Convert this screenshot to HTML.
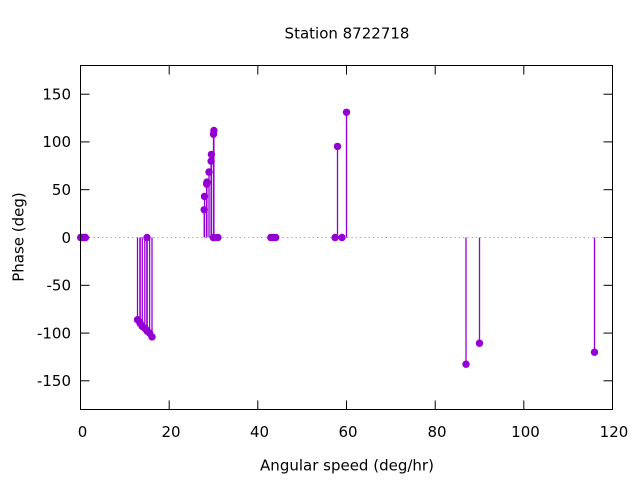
<!DOCTYPE html>
<html>
<head>
<meta charset="utf-8">
<style>
html,body{margin:0;padding:0;background:#fff;}
svg{display:block;}
text{font-family:"DejaVu Sans","Liberation Sans",sans-serif;font-size:15px;fill:#000;}
</style>
</head>
<body>
<svg width="640" height="480" viewBox="0 0 640 480" xmlns="http://www.w3.org/2000/svg">
<rect x="0" y="0" width="640" height="480" fill="#fff"/>
<!-- zero line -->
<line x1="80.5" y1="237.5" x2="612.5" y2="237.5" stroke="#a0a0a0" stroke-width="1" stroke-dasharray="1.2,3.1"/>
<!-- ticks -->
<g stroke="#000" stroke-width="1">
<line x1="80.5" y1="94.2" x2="89.5" y2="94.2"/><line x1="612.5" y1="94.2" x2="603.5" y2="94.2"/>
<line x1="80.5" y1="141.9" x2="89.5" y2="141.9"/><line x1="612.5" y1="141.9" x2="603.5" y2="141.9"/>
<line x1="80.5" y1="189.7" x2="89.5" y2="189.7"/><line x1="612.5" y1="189.7" x2="603.5" y2="189.7"/>
<line x1="80.5" y1="237.5" x2="89.5" y2="237.5"/><line x1="612.5" y1="237.5" x2="603.5" y2="237.5"/>
<line x1="80.5" y1="285.3" x2="89.5" y2="285.3"/><line x1="612.5" y1="285.3" x2="603.5" y2="285.3"/>
<line x1="80.5" y1="333.1" x2="89.5" y2="333.1"/><line x1="612.5" y1="333.1" x2="603.5" y2="333.1"/>
<line x1="80.5" y1="380.8" x2="89.5" y2="380.8"/><line x1="612.5" y1="380.8" x2="603.5" y2="380.8"/>
<line x1="169.2" y1="409.5" x2="169.2" y2="400.5"/><line x1="169.2" y1="65.5" x2="169.2" y2="74.5"/>
<line x1="257.8" y1="409.5" x2="257.8" y2="400.5"/><line x1="257.8" y1="65.5" x2="257.8" y2="74.5"/>
<line x1="346.5" y1="409.5" x2="346.5" y2="400.5"/><line x1="346.5" y1="65.5" x2="346.5" y2="74.5"/>
<line x1="435.2" y1="409.5" x2="435.2" y2="400.5"/><line x1="435.2" y1="65.5" x2="435.2" y2="74.5"/>
<line x1="523.8" y1="409.5" x2="523.8" y2="400.5"/><line x1="523.8" y1="65.5" x2="523.8" y2="74.5"/>
</g>
<!-- impulses -->
<g stroke="#9400d3" stroke-width="1.3">
<line x1="137.5" y1="237.5" x2="137.5" y2="319.7"/>
<line x1="139.9" y1="237.5" x2="139.9" y2="322.5"/>
<line x1="140.2" y1="237.5" x2="140.2" y2="323.5"/>
<line x1="142.3" y1="237.5" x2="142.3" y2="326.4"/>
<line x1="144.8" y1="237.5" x2="144.8" y2="328.3"/>
<line x1="146.8" y1="237.5" x2="146.8" y2="330.2"/>
<line x1="147.2" y1="237.5" x2="147.2" y2="331.1"/>
<line x1="149.6" y1="237.5" x2="149.6" y2="333.1"/>
<line x1="152.0" y1="237.5" x2="152.0" y2="336.9"/>
<line x1="204.2" y1="237.5" x2="204.2" y2="209.8"/>
<line x1="204.5" y1="237.5" x2="204.5" y2="196.4"/>
<line x1="206.6" y1="237.5" x2="206.6" y2="184.0"/>
<line x1="206.9" y1="237.5" x2="206.9" y2="182.1"/>
<line x1="209.0" y1="237.5" x2="209.0" y2="172.0"/>
<line x1="211.1" y1="237.5" x2="211.1" y2="161.1"/>
<line x1="211.4" y1="237.5" x2="211.4" y2="154.4"/>
<line x1="213.5" y1="237.5" x2="213.5" y2="134.3"/>
<line x1="213.9" y1="237.5" x2="213.9" y2="130.5"/>
<line x1="337.5" y1="237.5" x2="337.5" y2="146.4"/>
<line x1="346.5" y1="237.5" x2="346.5" y2="112.3"/>
<line x1="466.0" y1="237.5" x2="466.0" y2="364.2"/>
<line x1="479.5" y1="237.5" x2="479.5" y2="343.2"/>
<line x1="594.5" y1="237.5" x2="594.5" y2="352.2"/>
</g>
<!-- points -->
<g fill="#9400d3">
<circle cx="80.7" cy="237.5" r="3.7"/>
<circle cx="80.9" cy="237.5" r="3.7"/>
<circle cx="82.9" cy="237.5" r="3.7"/>
<circle cx="85.0" cy="237.5" r="3.7"/>
<circle cx="85.4" cy="237.5" r="3.7"/>
<circle cx="137.5" cy="319.7" r="3.7"/>
<circle cx="139.9" cy="322.5" r="3.7"/>
<circle cx="140.2" cy="323.5" r="3.7"/>
<circle cx="142.3" cy="326.4" r="3.7"/>
<circle cx="144.8" cy="328.3" r="3.7"/>
<circle cx="146.8" cy="330.2" r="3.7"/>
<circle cx="147.0" cy="237.5" r="3.7"/>
<circle cx="147.2" cy="331.1" r="3.7"/>
<circle cx="149.6" cy="333.1" r="3.7"/>
<circle cx="152.0" cy="336.9" r="3.7"/>
<circle cx="204.2" cy="209.8" r="3.7"/>
<circle cx="204.5" cy="196.4" r="3.7"/>
<circle cx="206.6" cy="184.0" r="3.7"/>
<circle cx="206.9" cy="182.1" r="3.7"/>
<circle cx="209.0" cy="172.0" r="3.7"/>
<circle cx="211.1" cy="161.1" r="3.7"/>
<circle cx="211.4" cy="154.4" r="3.7"/>
<circle cx="213.5" cy="134.3" r="3.7"/>
<circle cx="213.9" cy="130.5" r="3.7"/>
<circle cx="213.3" cy="237.5" r="3.7"/>
<circle cx="214.0" cy="237.5" r="3.7"/>
<circle cx="217.9" cy="237.5" r="3.7"/>
<circle cx="270.8" cy="237.5" r="3.7"/>
<circle cx="273.2" cy="237.5" r="3.7"/>
<circle cx="275.7" cy="237.5" r="3.7"/>
<circle cx="335.1" cy="237.5" r="3.7"/>
<circle cx="337.5" cy="146.4" r="3.7"/>
<circle cx="342.0" cy="237.5" r="3.7"/>
<circle cx="346.5" cy="112.3" r="3.7"/>
<circle cx="466.0" cy="364.2" r="3.7"/>
<circle cx="479.5" cy="343.2" r="3.7"/>
<circle cx="594.5" cy="352.2" r="3.7"/>
</g>
<!-- frame -->
<rect x="80.5" y="65.5" width="532" height="344" fill="none" stroke="#000" stroke-width="1"/>
<!-- y tick labels -->
<g text-anchor="end">
<text x="71" y="99.5">150</text>
<text x="71" y="147.2">100</text>
<text x="71" y="195">50</text>
<text x="71" y="242.8">0</text>
<text x="71" y="290.6">-50</text>
<text x="71" y="338.4">-100</text>
<text x="71" y="386.1">-150</text>
</g>
<!-- x tick labels -->
<g text-anchor="middle">
<text x="82.5" y="437">0</text>
<text x="171" y="437">20</text>
<text x="259.5" y="437">40</text>
<text x="348" y="437">60</text>
<text x="437" y="437">80</text>
<text x="525.5" y="437">100</text>
<text x="614" y="437">120</text>
</g>
<text x="347" y="470.5" text-anchor="middle">Angular speed (deg/hr)</text>
<text x="347" y="38.5" text-anchor="middle">Station 8722718</text>
<text transform="translate(23.5,237) rotate(-90)" text-anchor="middle">Phase (deg)</text>
</svg>
</body>
</html>
